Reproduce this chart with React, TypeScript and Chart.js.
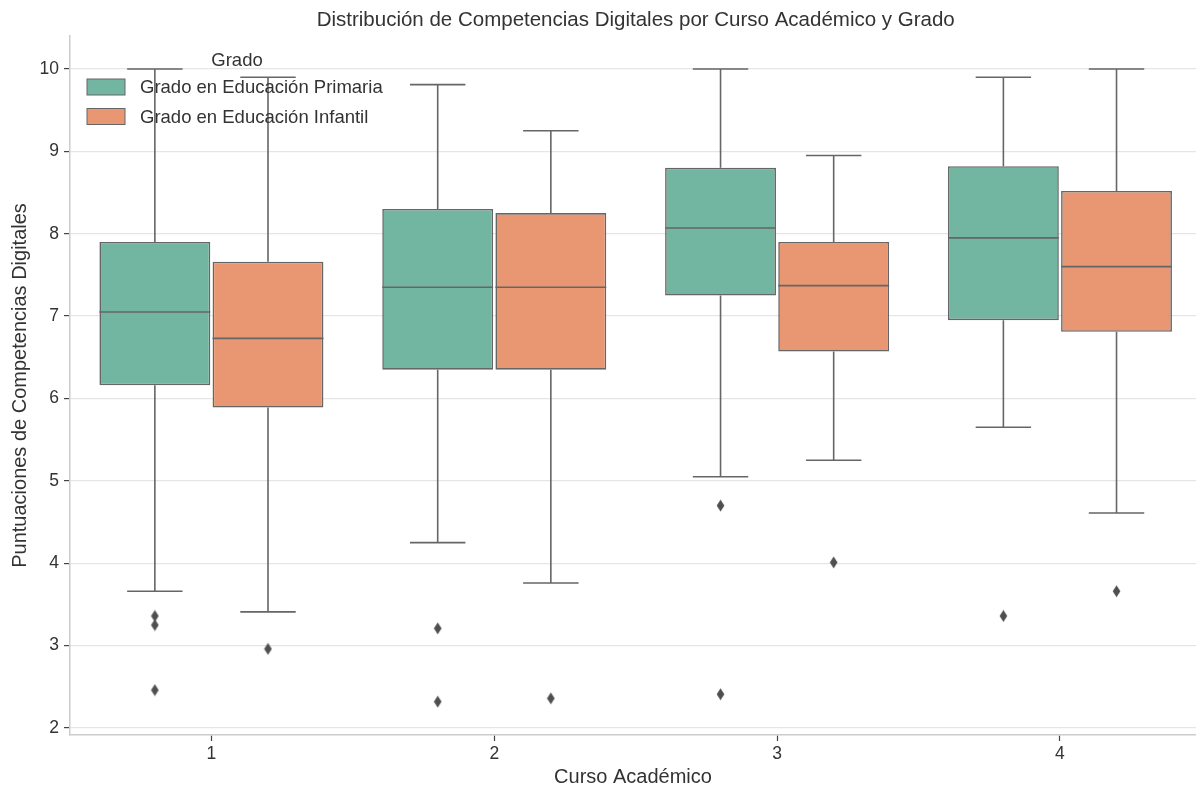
import React, { useEffect, useRef } from "react";
import { Chart, registerables } from "chart.js";

Chart.register(...registerables);

const courses = ["1", "2", "3", "4"];
const courseValues = [1, 2, 3, 4];
const seriesNames = ["Grado en Educación Primaria", "Grado en Educación Infantil"];
const seriesColors = ["#72b5a0", "#e99673"];
const edgeColor = "#666666";
const chartTitle = "Distribución de Competencias Digitales por Curso Académico y Grado";

// Primaria box stats per course
const primariaLow = [3.66, 4.25, 5.05, 5.65];
const primariaQ1 = [6.16, 6.35, 7.25, 6.95];
const primariaMedian = [7.05, 7.35, 8.07, 7.95];
const primariaQ3 = [7.9, 8.3, 8.8, 8.82];
const primariaHigh = [10.0, 9.81, 10.0, 9.9];
const primariaOutliers = [[3.36, 3.25, 2.46], [3.21, 2.32], [4.7, 2.41], [3.36]];

// Infantil box stats per course
const infantilLow = [3.41, 3.76, 5.25, 4.61];
const infantilQ1 = [5.89, 6.35, 6.57, 6.81];
const infantilMedian = [6.73, 7.35, 7.37, 7.6];
const infantilQ3 = [7.66, 8.25, 7.9, 8.52];
const infantilHigh = [9.9, 9.25, 8.95, 10.0];
const infantilOutliers = [[2.96], [2.36], [4.01], [3.66]];

const yTicks = [2, 3, 4, 5, 6, 7, 8, 9, 10];

const GROUP_OFFSET = 0.2;
const FONT = "'Liberation Sans', Arial, sans-serif";
const TEXT = "#333333";

function makeDiamond(): HTMLCanvasElement {
  const c = document.createElement("canvas");
  c.width = 9;
  c.height = 13;
  const ctx = c.getContext("2d")!;
  ctx.fillStyle = "#4f4f4f";
  ctx.beginPath();
  ctx.moveTo(4.5, 0.5);
  ctx.lineTo(8.3, 6.5);
  ctx.lineTo(4.5, 12.5);
  ctx.lineTo(0.7, 6.5);
  ctx.closePath();
  ctx.fill();
  return c;
}

export default function App() {
  const ref = useRef<HTMLCanvasElement>(null);

  useEffect(() => {
    document.body.style.margin = "0";
    const canvas = ref.current!;
    const diamond = makeDiamond();

    const stats = [
      { low: primariaLow, q1: primariaQ1, med: primariaMedian, q3: primariaQ3, high: primariaHigh, out: primariaOutliers },
      { low: infantilLow, q1: infantilQ1, med: infantilMedian, q3: infantilQ3, high: infantilHigh, out: infantilOutliers },
    ];

    const boxDatasets = stats.map((s, k) => ({
      type: "bar" as const,
      label: seriesNames[k],
      data: courseValues.map((x, i) => ({ x, y: [s.q1[i], s.q3[i]] })),
      backgroundColor: seriesColors[k],
      borderColor: edgeColor,
      borderWidth: 1.6,
      borderSkipped: false,
      categoryPercentage: 0.8,
      barPercentage: 0.98,
      order: 2,
    }));

    const outlierDatasets = stats.map((s, k) => ({
      type: "scatter" as const,
      label: seriesNames[k] + " outliers",
      data: courseValues.flatMap((x, i) =>
        s.out[i].map((v) => ({ x: x + (k === 0 ? -GROUP_OFFSET : GROUP_OFFSET), y: v }))
      ),
      pointStyle: diamond as any,
      pointRadius: 5,
      order: 1,
    }));

    const whiskerPlugin = {
      id: "whiskers",
      beforeDatasetsDraw(chart: any) {
        const ctx = chart.ctx;
        const yScale = chart.scales.y;
        ctx.save();
        ctx.strokeStyle = edgeColor;
        ctx.lineWidth = 1.6;
        stats.forEach((s, k) => {
          const meta = chart.getDatasetMeta(k);
          meta.data.forEach((bar: any, i: number) => {
            const x = bar.x;
            const half = bar.width / 4;
            const yLow = yScale.getPixelForValue(s.low[i]);
            const yQ1 = yScale.getPixelForValue(s.q1[i]);
            const yQ3 = yScale.getPixelForValue(s.q3[i]);
            const yHigh = yScale.getPixelForValue(s.high[i]);
            ctx.beginPath();
            ctx.moveTo(x, yQ1);
            ctx.lineTo(x, yLow);
            ctx.moveTo(x - half, yLow);
            ctx.lineTo(x + half, yLow);
            ctx.moveTo(x, yQ3);
            ctx.lineTo(x, yHigh);
            ctx.moveTo(x - half, yHigh);
            ctx.lineTo(x + half, yHigh);
            ctx.stroke();
          });
        });
        ctx.restore();
      },
      afterDatasetsDraw(chart: any) {
        const ctx = chart.ctx;
        const yScale = chart.scales.y;
        ctx.save();
        ctx.strokeStyle = edgeColor;
        ctx.lineWidth = 1.6;
        stats.forEach((s, k) => {
          const meta = chart.getDatasetMeta(k);
          meta.data.forEach((bar: any, i: number) => {
            const y = yScale.getPixelForValue(s.med[i]);
            ctx.beginPath();
            ctx.moveTo(bar.x - bar.width / 2, y);
            ctx.lineTo(bar.x + bar.width / 2, y);
            ctx.stroke();
          });
        });
        ctx.restore();
      },
      afterDraw(chart: any) {
        const ctx = chart.ctx;
        const { left, top } = chart.chartArea;
        const xScale = chart.scales.x;
        ctx.save();
        // title centred over the full plot extent (0.5 .. 4.5)
        const cx = (xScale.getPixelForValue(0.5) + xScale.getPixelForValue(4.5)) / 2;
        ctx.fillStyle = TEXT;
        ctx.font = `20.5px ${FONT}`;
        ctx.textAlign = "center";
        ctx.textBaseline = "middle";
        ctx.fillText(chartTitle, cx, 20);
        // legend
        ctx.font = `18.5px ${FONT}`;
        ctx.fillText("Grado", left + 167, top + 25);
        seriesNames.forEach((name, k) => {
          const yc = top + 51 + k * 29.5;
          ctx.fillStyle = seriesColors[k];
          ctx.fillRect(left + 17, yc - 8, 38, 16);
          ctx.strokeStyle = edgeColor;
          ctx.lineWidth = 1;
          ctx.strokeRect(left + 17, yc - 8, 38, 16);
          ctx.fillStyle = TEXT;
          ctx.textAlign = "left";
          ctx.fillText(name, left + 70, yc + 1);
        });
        ctx.restore();
      },
    };

    const chart = new Chart(canvas, {
      data: { datasets: [...boxDatasets, ...outlierDatasets] as any },
      options: {
        animation: false,
        responsive: false,
        maintainAspectRatio: false,
        layout: { autoPadding: false, padding: { left: 0, right: 0, top: 36, bottom: 0 } },
        plugins: {
          legend: { display: false },
          tooltip: { enabled: false },
          title: { display: false },
        },
        scales: {
          x: {
            type: "linear",
            offset: false,
            min: 0.5,
            max: 4.481,
            afterBuildTicks: (scale: any) => {
              scale.ticks = courseValues.map((v) => ({ value: v }));
            },
            afterFit: (scale: any) => {
              scale.height = 54;
              scale.paddingLeft = 0;
              scale.paddingRight = 0;
            },
            ticks: {
              color: TEXT,
              font: { family: FONT, size: 17.5 },
              padding: 3,
              maxRotation: 0,
              callback: (v: any) => courses[courseValues.indexOf(Number(v))] ?? "",
            },
            grid: {
              display: true,
              offset: false,
              drawOnChartArea: false,
              drawTicks: true,
              tickLength: 6,
              tickColor: "#444",
              tickWidth: 1.2,
            },
            border: { display: true, color: "#cccccc", width: 1.5 },
            title: {
              display: true,
              text: "Curso Académico",
              color: TEXT,
              font: { family: FONT, size: 20 },
              padding: { top: 0, bottom: 0 },
            },
          },
          y: {
            type: "linear",
            min: 1.915,
            max: 10.4,
            afterBuildTicks: (scale: any) => {
              scale.ticks = yTicks.map((v) => ({ value: v }));
            },
            afterFit: (scale: any) => {
              scale.width = 70;
            },
            ticks: {
              color: TEXT,
              font: { family: FONT, size: 17.5 },
              padding: 5,
            },
            grid: {
              display: true,
              color: "#e5e5e5",
              lineWidth: 1.2,
              tickLength: 6,
              tickColor: "#444",
              tickWidth: 1.2,
            },
            border: { display: true, color: "#cccccc", width: 1.5 },
            title: {
              display: true,
              text: "Puntuaciones de Competencias Digitales",
              color: TEXT,
              font: { family: FONT, size: 20 },
              padding: { top: 8, bottom: 0 },
            },
          },
        },
      },
      plugins: [whiskerPlugin],
    } as any);

    return () => chart.destroy();
  }, []);

  return (
    <div style={{ width: 1196, height: 789 }}>
      <canvas ref={ref} width={1196} height={789} style={{ display: "block" }} />
    </div>
  );
}
